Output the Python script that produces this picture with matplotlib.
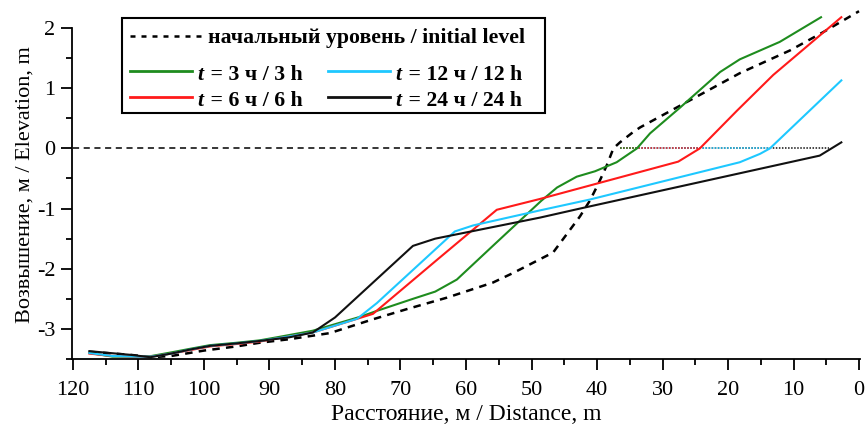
import matplotlib
matplotlib.use("Agg")
import matplotlib.pyplot as plt
from matplotlib.lines import Line2D
from matplotlib.patches import Rectangle

# ---- data ----
x_init = [117.5, 111.3, 108.0, 105.0, 100.0, 95.0, 91.5, 86.9, 80.8, 74.2, 69.0, 62.9, 55.9, 52.8,
          46.7, 42.6, 41.1, 39.8, 38.5, 37.5, 36.5, 34.5, 33.4, 25.8, 18.2, 10.5, 5.5, 0.0]
y_init = [-3.38, -3.43, -3.47, -3.45, -3.36, -3.29, -3.23, -3.17, -3.07, -2.84, -2.67, -2.48, -2.23, -2.07,
          -1.73, -1.13, -0.87, -0.59, -0.28, 0.0, 0.10, 0.27, 0.35, 0.80, 1.25, 1.63, 1.93, 2.28]

x_3h = [117.5, 114.0, 110.0, 108.0, 105.0, 102.1, 99.1, 95.0, 91.5, 88.4, 83.4, 76.2, 73.6, 68.1, 64.7,
        61.4, 55.9, 48.5, 46.1, 43.1, 40.3, 37.0, 33.9, 31.9, 27.3, 21.2, 18.2, 12.1, 5.8]
y_3h = [-3.40, -3.46, -3.46, -3.45, -3.39, -3.33, -3.27, -3.23, -3.19, -3.13, -3.03, -2.80, -2.70, -2.50, -2.38,
        -2.18, -1.62, -0.87, -0.65, -0.47, -0.38, -0.23, 0.0, 0.25, 0.68, 1.27, 1.48, 1.77, 2.18]

x_6h = [117.5, 114.0, 110.0, 108.0, 105.0, 102.0, 99.0, 95.0, 91.5, 88.4, 83.4, 74.2, 64.4, 55.3, 48.7,
        27.6, 24.3, 18.6, 13.1, 2.7]
y_6h = [-3.41, -3.45, -3.46, -3.46, -3.41, -3.35, -3.29, -3.25, -3.21, -3.15, -3.06, -2.75, -1.85, -1.02, -0.84,
        -0.22, 0.0, 0.63, 1.22, 2.18]

x_12h = [117.5, 114.0, 110.0, 108.0, 105.0, 102.0, 99.0, 95.0, 91.5, 88.4, 83.4, 76.6, 73.6, 61.7, 58.9,
         48.7, 41.1, 18.2, 15.1, 13.6, 2.7]
y_12h = [-3.40, -3.45, -3.46, -3.46, -3.41, -3.34, -3.28, -3.24, -3.20, -3.15, -3.06, -2.83, -2.57, -1.38, -1.28,
         -1.03, -0.85, -0.23, -0.09, 0.0, 1.13]

x_24h = [117.5, 111.3, 108.2, 105.0, 102.0, 99.0, 95.0, 91.5, 87.0, 83.4, 80.0, 68.1, 64.7, 48.7, 42.6,
         6.0, 2.7]
y_24h = [-3.37, -3.43, -3.47, -3.41, -3.34, -3.28, -3.24, -3.20, -3.14, -3.06, -2.81, -1.62, -1.50, -1.15, -1.00,
         -0.12, 0.10]

# water level (0 m) segments
x_water = [120.0, 38.5]
water_start = 36.5
water_end = {"24h": 4.6, "12h": 13.6, "6h": 24.3, "3h": 33.9}

legend_labels = [" = 3 ч / 3 h", " = 6 ч / 6 h", " = 12 ч / 12 h", " = 24 ч / 24 h"]
init_label = "начальный уровень / initial level"

c_green = "#1e8c1e"
c_red = "#ff1a1a"
c_cyan = "#1ec8ff"
c_black = "#111111"

plt.rcParams['font.family'] = ['Liberation Serif', 'DejaVu Serif']
plt.rcParams['axes.unicode_minus'] = False

fig = plt.figure(figsize=(8.68, 4.26), dpi=100)
W, H = 868, 426
ax = fig.add_axes([72 / W, 1 - 359 / H, (860 - 72) / W, (359 - 10) / H])

lw = 1.5
ax.plot(x_water, [0, 0], color="black", lw=1.1, ls=(0, (4, 3)))
for key, col in [("24h", c_black), ("12h", c_cyan), ("6h", c_red), ("3h", c_green)]:
    ax.plot([water_start, water_end[key]], [0, 0], color=col, lw=1.1, ls=(0, (1, 1)))

ax.plot(x_init, y_init, color="black", lw=1.8, ls=(0, (3.0, 2.5)), zorder=3)
l3, = ax.plot(x_3h, y_3h, color=c_green, lw=lw, zorder=4)
l6, = ax.plot(x_6h, y_6h, color=c_red, lw=lw, zorder=4)
l12, = ax.plot(x_12h, y_12h, color=c_cyan, lw=lw, zorder=4)
l24, = ax.plot(x_24h, y_24h, color=c_black, lw=lw, zorder=5)

ax.set_xlim(120.15, -0.15)
ax.set_ylim(-3.5, 2.3)
ax.spines['top'].set_visible(False)
ax.spines['right'].set_visible(False)
ax.spines['left'].set_bounds(-3.5, 2.0)
for s in ('left', 'bottom'):
    ax.spines[s].set_linewidth(1.3)

ax.set_xticks(range(0, 121, 10))
ax.set_xticks(range(5, 121, 10), minor=True)
ax.set_yticks([-3, -2, -1, 0, 1, 2])
ax.set_yticks([-3.5, -2.5, -1.5, -0.5, 0.5, 1.5], minor=True)
ax.tick_params(which='major', direction='out', length=8, width=1.3, labelsize=16)
ax.tick_params(which='minor', direction='out', length=4.5, width=1.3)
ax.tick_params(axis='x', which='major', pad=7.5)
ax.tick_params(axis='y', which='major', pad=4)

ax.set_xlabel("Расстояние, м / Distance, m", fontsize=17)
ax.xaxis.set_label_coords(0.5, -0.128)
ax.set_ylabel("Возвышение, м / Elevation, m", fontsize=16)
ax.yaxis.set_label_coords(-0.047, 0.5)

# ---- legend (drawn as keys + text in figure pixels) ----
def fx(px):
    return px / W

def fy(py):
    return 1 - py / H

fig.patches.append(Rectangle((fx(122), fy(113)), (545 - 122) / W, (113 - 18) / H,
                             transform=fig.transFigure, fill=False, ec="black", lw=1.5))
fig.add_artist(Line2D([fx(130), fx(203)], [fy(36), fy(36)], transform=fig.transFigure,
                      color="black", lw=1.8, ls=(0, (2.0, 2.4))))
fig.text(fx(208), fy(36), init_label, fontsize=15.7, fontweight='bold', va='center_baseline', ha='left')

renderer = fig.canvas.get_renderer()
entries = [(l3, legend_labels[0], 130, 71), (l6, legend_labels[1], 130, 97),
           (l12, legend_labels[2], 328, 71), (l24, legend_labels[3], 328, 97)]
for line, lab, x0, yy in entries:
    fig.add_artist(Line2D([fx(x0), fx(x0 + 62)], [fy(yy), fy(yy)], transform=fig.transFigure,
                          color=line.get_color(), lw=2.0))
    tt = fig.text(fx(x0 + 67), fy(yy + 1), "t", fontsize=15.7, fontweight='bold', fontstyle='italic',
                  va='center_baseline', ha='left')
    bb = tt.get_window_extent(renderer)
    fig.text(bb.x1 / W + 2 / W, fy(yy + 1), lab, fontsize=15.7, fontweight='bold',
             va='center_baseline', ha='left')

fig.savefig("out.png", dpi=100)
